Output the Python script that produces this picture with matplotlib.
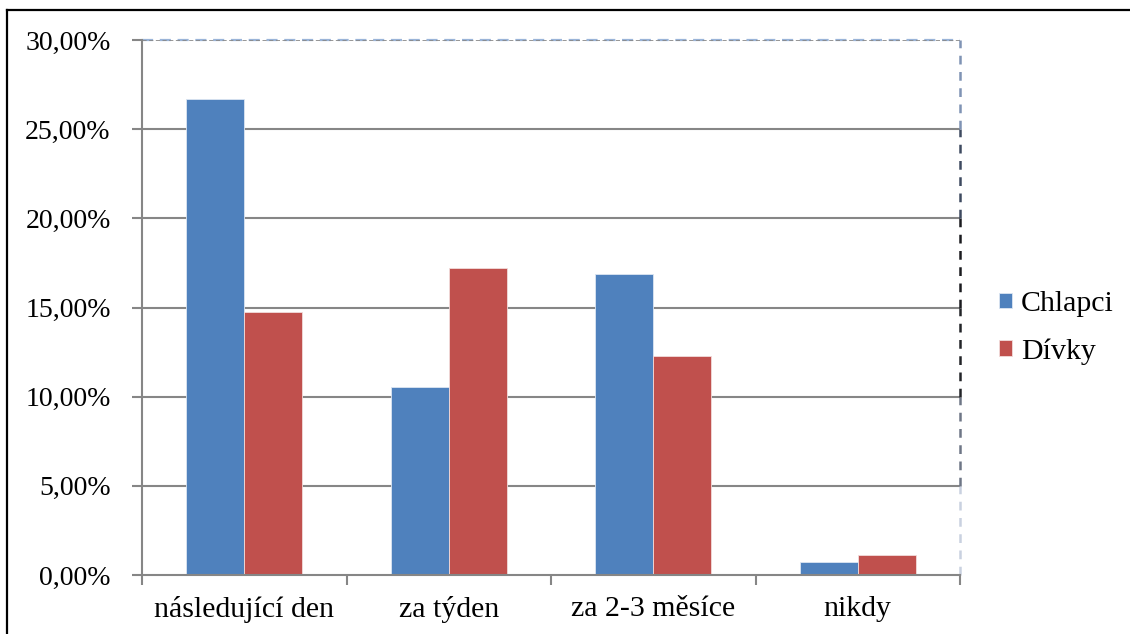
import matplotlib.pyplot as plt
import numpy as np
from matplotlib.lines import Line2D
from matplotlib.ticker import FuncFormatter, FixedLocator

categories = ["následující den", "za týden", "za 2-3 měsíce", "nikdy"]
series_names = ["Chlapci", "Dívky"]
chlapci = [26.67, 10.56, 16.87, 0.72]
divky = [14.76, 17.20, 12.29, 1.10]
y_ticks = [0, 5, 10, 15, 20, 25, 30]

colors = ["#4F81BD", "#C0504D"]
grid_color = "#868686"

plt.rcParams["font.family"] = ["Liberation Serif", "DejaVu Serif"]

W, H = 1130, 634
fig = plt.figure(figsize=(W / 100, H / 100), dpi=100)

# outer frame (top and left edges)
fig.add_artist(Line2D([7 / W, 7 / W], [0, 1 - 10 / H], color="black", lw=1.6))
fig.add_artist(Line2D([7 / W, 1], [1 - 10 / H, 1 - 10 / H], color="black", lw=1.6))

left, right, top, bottom = 142, 960, 40, 575
ax = fig.add_axes([left / W, 1 - bottom / H, (right - left) / W, (bottom - top) / H])

x = np.arange(len(categories))
bw = 0.2836
ax.bar(x - bw / 2, chlapci, bw, color=colors[0], edgecolor="#DCE6F2", linewidth=0.6,
       label=series_names[0], zorder=3)
ax.bar(x + bw / 2, divky, bw, color=colors[1], edgecolor="#F2DCDB", linewidth=0.6,
       label=series_names[1], zorder=3)

ax.set_xlim(-0.5, len(categories) - 0.5)
ax.set_ylim(0, 30)

# horizontal gridlines
for t in y_ticks[1:-1]:
    ax.axhline(t, color=grid_color, lw=1.5, zorder=1)

# axis spines
for s in ["top", "right"]:
    ax.spines[s].set_visible(False)
ax.spines["left"].set_color(grid_color)
ax.spines["left"].set_linewidth(1.5)
ax.spines["bottom"].set_color(grid_color)
ax.spines["bottom"].set_linewidth(1.5)
ax.spines["bottom"].set_zorder(4)

# dashed top edge
ax.plot([-0.5, len(categories) - 0.5], [30, 30], color="#9AB4D8", lw=1.6,
        ls=(0, (5, 3)), zorder=2, clip_on=False)
ax.plot([-0.5, len(categories) - 0.5], [30, 30], color=grid_color, lw=0.6,
        ls=(0, (5, 3)), zorder=2, clip_on=False)

# dashed right edge, colour fading from blue at the top to dark in the middle to pale at the bottom
xr = len(categories) - 0.5
edge_cols = ["#C9D1E0", "#6E7686", "#222428", "#1A1B1F", "#3E4A60", "#7F93B4"]
for i, c in enumerate(edge_cols):
    ax.plot([xr, xr], [i * 5, (i + 1) * 5], color=c, lw=1.8,
            ls=(0, (3.5, 3)), zorder=2, clip_on=False, solid_capstyle="butt")

# y axis ticks
ax.yaxis.set_major_locator(FixedLocator(y_ticks))
ax.yaxis.set_major_formatter(FuncFormatter(lambda v, p: f"{v:.2f}".replace(".", ",") + "%"))
ax.tick_params(axis="y", which="major", length=7, width=1.5, color=grid_color,
               labelsize=20, pad=15.5)

# x axis: ticks at category boundaries, labels at centres
ax.set_xticks(x)
ax.set_xticklabels(categories)
ax.set_xticks(np.arange(-0.5, len(categories)), minor=True)
ax.tick_params(axis="x", which="major", length=0, labelsize=21.5, pad=15)
ax.tick_params(axis="x", which="minor", length=7, width=1.5, color=grid_color)

leg = ax.legend(loc="center left", bbox_to_anchor=(1.0, 0.462), frameon=False,
                fontsize=21.5, handlelength=0.44, handleheight=0.44, handletextpad=0.3,
                labelspacing=0.7, borderaxespad=0.9)

fig.savefig("out.png", dpi=100, facecolor="white")
